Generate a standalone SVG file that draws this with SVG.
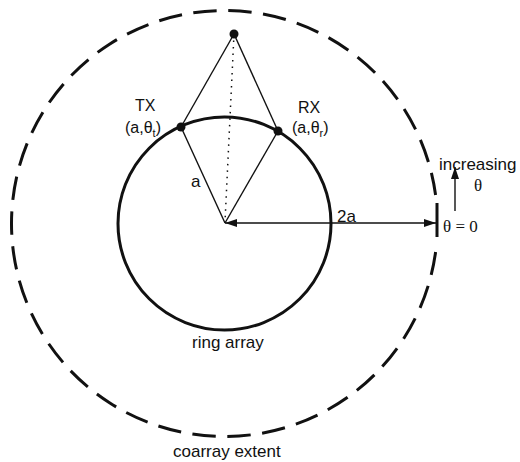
<svg xmlns="http://www.w3.org/2000/svg" width="520" height="462" viewBox="0 0 520 462">
  <style>
    .lbl { font-family: "Liberation Sans", Arial, sans-serif; font-size: 17px; fill: #111; }
    .lbs { font-family: "Liberation Sans", Arial, sans-serif; font-size: 16px; fill: #111; }
    .ser { font-family: "Liberation Serif", "Times New Roman", serif; font-size: 17px; fill: #111; }
    .thin { stroke: #111; stroke-width: 1.4; fill: none; }
    .thick { stroke: #111; stroke-width: 3; fill: none; }
    .dot { fill: #111; }
  </style>
  <defs>
    <marker id="ah" viewBox="0 0 12 8" refX="12" refY="4" markerWidth="12" markerHeight="8" markerUnits="userSpaceOnUse" orient="auto-start-reverse">
      <path d="M0,0 L12,4 L0,8 Z" fill="#111"/>
    </marker>
  </defs>
  <rect width="520" height="462" fill="#fff"/>

  <g id="coarray">
    <path class="thick" d="M 435.59 251.96 A 213 213 0 1 1 435.59 195.04" stroke-dasharray="23.44 11.5"/>
    <line class="thick" x1="437" y1="203" x2="437" y2="237"/>
    <text class="lbl" x="173" y="457">coarray extent</text>
  </g>

  <g id="ring">
    <circle class="thick" cx="224.5" cy="223.5" r="106.5"/>
    <text class="lbl" x="192" y="348">ring array</text>
  </g>

  <g id="connectors">
    <line class="thin" x1="234" y1="34" x2="181" y2="127"/>
    <line class="thin" x1="234" y1="34" x2="278" y2="131"/>
    <line class="thin" x1="181" y1="127" x2="225" y2="223"/>
    <line class="thin" x1="278" y1="131" x2="225" y2="223"/>
    <line x1="234" y1="34" x2="225" y2="222" stroke="#111" stroke-width="1.5" stroke-dasharray="1.5 5"/>
    <line class="thin" x1="225" y1="223" x2="436" y2="223" marker-start="url(#ah)" marker-end="url(#ah)"/>
    <line class="thin" x1="455" y1="211" x2="455" y2="167" marker-end="url(#ah)"/>
  </g>

  <g id="apex">
    <circle class="dot" cx="234" cy="34" r="4.5"/>
  </g>

  <g id="tx">
    <circle class="dot" cx="181" cy="127" r="4.5"/>
    <text class="lbs" x="135" y="111">TX</text>
    <text class="lbs" x="125" y="133">(a,θ<tspan font-size="11" dy="4">t</tspan><tspan dy="-4">)</tspan></text>
  </g>

  <g id="rx">
    <circle class="dot" cx="278" cy="131" r="4.5"/>
    <text class="lbs" x="298" y="113">RX</text>
    <text class="lbs" x="292" y="133">(a,θ<tspan font-size="11" dy="4">r</tspan><tspan dy="-4">)</tspan></text>
  </g>

  <g id="labels">
    <text class="lbl" x="191" y="187">a</text>
    <text class="lbl" x="337" y="222">2a</text>
    <text class="lbl" x="439" y="170">increasing</text>
    <text class="ser" x="474" y="191">θ</text>
    <text class="ser" x="443" y="232">θ = 0</text>
  </g>
</svg>
